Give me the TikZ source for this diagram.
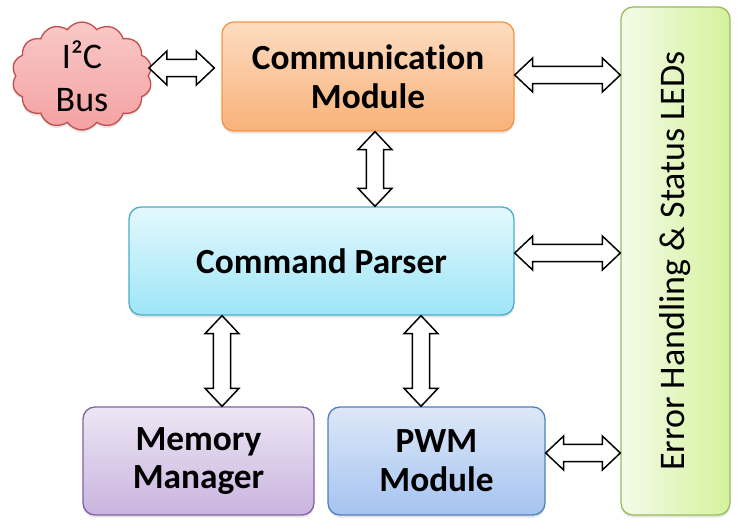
\documentclass[tikz,border=0pt]{standalone}
\usepackage{fontspec}
\setmainfont{Carlito}[Ligatures=NoCommon]
\usetikzlibrary{shapes.symbols,shadows,calc}
\definecolor{commB}{HTML}{F79646}\definecolor{commT}{HTML}{FDDCC0}\definecolor{commL}{HTML}{F8B27A}
\definecolor{parB}{HTML}{4BACC6}\definecolor{parT}{HTML}{E3F8FD}\definecolor{parL}{HTML}{9EE6F8}
\definecolor{memB}{HTML}{8064A2}\definecolor{memT}{HTML}{EDE6F4}\definecolor{memL}{HTML}{C9B4DF}
\definecolor{pwmB}{HTML}{4F81BD}\definecolor{pwmT}{HTML}{DDE8F8}\definecolor{pwmL}{HTML}{A5C3F0}
\definecolor{ledB}{HTML}{9BBB59}\definecolor{ledL}{HTML}{F3FBE8}\definecolor{ledR}{HTML}{D5F29C}
\definecolor{clB}{HTML}{C0504D}\definecolor{clT}{HTML}{FAC8C8}\definecolor{clL}{HTML}{F3A2A2}
\newlength\arrhl\setlength\arrhl{13.5pt}
\newlength\arrhw\setlength\arrhw{12.75pt}
\newlength\arrsw\setlength\arrsw{6.4pt}
\tikzset{
  box/.style={draw, rounded corners=9pt, line width=1pt, align=center,
    font=\fontsize{26.5}{29}\selectfont\bfseries,
    drop shadow={opacity=0.2, shadow xshift=0pt, shadow yshift=-2pt}},
  barrow/.style={draw=black, fill=white, line width=1.1pt, line join=miter},
}
\newcommand\harr[2]{\draw[barrow] let \p1=#1, \p2=#2 in
  (\x1,\y1) -- (\x1+\arrhl,\y1+\arrhw) -- (\x1+\arrhl,\y1+\arrsw) -- (\x2-\arrhl,\y1+\arrsw)
  -- (\x2-\arrhl,\y1+\arrhw) -- (\x2,\y1) -- (\x2-\arrhl,\y1-\arrhw) -- (\x2-\arrhl,\y1-\arrsw)
  -- (\x1+\arrhl,\y1-\arrsw) -- (\x1+\arrhl,\y1-\arrhw) -- cycle;}
\newcommand\varr[2]{\draw[barrow] let \p1=#1, \p2=#2 in
  (\x1,\y1) -- (\x1+\arrhw,\y1-\arrhl) -- (\x1+\arrsw,\y1-\arrhl) -- (\x1+\arrsw,\y2+\arrhl)
  -- (\x1+\arrhw,\y2+\arrhl) -- (\x1,\y2) -- (\x1-\arrhw,\y2+\arrhl) -- (\x1-\arrsw,\y2+\arrhl)
  -- (\x1-\arrsw,\y1-\arrhl) -- (\x1-\arrhw,\y1-\arrhl) -- cycle;}
\begin{document}
\begin{tikzpicture}[x=0.75pt,y=-0.75pt]
\useasboundingbox (0,0) rectangle (744,530);
\node[box, draw=commB, top color=commT, bottom color=commL, minimum width=219pt, minimum height=81.75pt]
  (comm) at (368,76.5) {Communication\\Module};
\node[box, draw=parB, top color=parT, bottom color=parL, minimum width=288.75pt, minimum height=81pt]
  (parser) at (321.5,261) {Command Parser};
\node[box, draw=memB, top color=memT, bottom color=memL, minimum width=173.25pt, minimum height=81pt]
  (mem) at (198.5,461) {Memory\\Manager};
\node[box, draw=pwmB, top color=pwmT, bottom color=pwmL, minimum width=162.75pt, minimum height=81pt]
  (pwm) at (436.5,461) {PWM\\Module};
\node[box, draw=ledB, left color=ledL, right color=ledR, minimum width=81.75pt, minimum height=381pt]
  (led) at (675.5,261) {};
\node[rotate=90, font=\fontsize{27}{30}\selectfont] (ledtext) at (led.center) {Error Handling \& Status LEDs};
\node[cloud, cloud puffs=14, cloud puff arc=110, cloud ignores aspect, draw=clB, line width=1pt,
  top color=clT, bottom color=clL, minimum width=105pt, minimum height=81pt, inner sep=0pt,
  drop shadow={opacity=0.2, shadow xshift=0pt, shadow yshift=-2pt}]
  (cloud) at (82,76) {};
\node[align=center, font=\fontsize{27}{32}\selectfont] (cloudtext) at (cloud.center) {I²C\\Bus};
\harr{(cloud.east |- 0,68)}{($(comm.west |- 0,68)+(-7,0)$)}
\harr{(comm.east |- 0,75)}{(led.west |- 0,75)}
\harr{(parser.east |- 0,253)}{(led.west |- 0,253)}
\harr{(pwm.east |- 0,453)}{(led.west |- 0,453)}
\varr{(375,0 |- comm.south)}{(375,0 |- parser.north)}
\varr{(222,0 |- parser.south)}{(222,0 |- mem.north)}
\varr{(421,0 |- parser.south)}{(421,0 |- pwm.north)}
\end{tikzpicture}
\end{document}
